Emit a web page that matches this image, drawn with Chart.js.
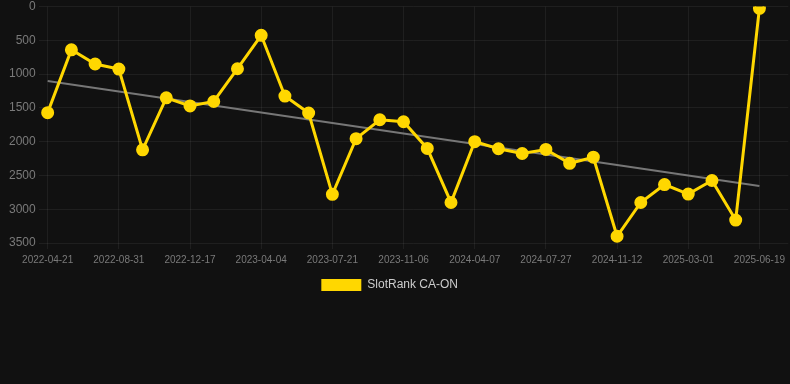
<!DOCTYPE html>
<html>
<head>
<meta charset="utf-8">
<script src="https://cdn.jsdelivr.net/npm/chart.js@4/dist/chart.umd.min.js"></script>
<style>
  html, body { margin: 0; padding: 0; background: #111111; }
  #wrap { position: relative; width: 790px; height: 301px; }
</style>
</head>
<body>
<div id="wrap"><canvas id="c"></canvas></div>
<script>
const dates = [
  '2022-04-21','2022-06-04','2022-07-18','2022-08-31','2022-10-06','2022-11-11',
  '2022-12-17','2023-01-22','2023-02-27','2023-04-04','2023-05-10','2023-06-15',
  '2023-07-21','2023-08-26','2023-10-01','2023-11-06','2023-12-27','2024-02-16',
  '2024-04-07','2024-05-14','2024-06-20','2024-07-27','2024-09-01','2024-10-07',
  '2024-11-12','2024-12-18','2025-01-23','2025-03-01','2025-04-06','2025-05-12',
  '2025-06-19'
];
const rankValues = [
  1570, 640, 850, 925, 2120, 1350, 1470, 1405, 920, 425, 1325, 1575,
  2780, 1955, 1675, 1705, 2100, 2900, 2000, 2105, 2175, 2115, 2320, 2230,
  3400, 2900, 2635, 2775, 2575, 3160, 25
];
const trendStart = 1100;
const trendEnd = 2655;
const yTicks = [0, 500, 1000, 1500, 2000, 2500, 3000, 3500];
const seriesName = 'SlotRank CA-ON';

const lastIdx = dates.length - 1;
const rankPoints = rankValues.map((v, i) => ({ x: i, y: v }));
const trendPoints = [{ x: 0, y: trendStart }, { x: lastIdx, y: trendEnd }];
const labelIdx = dates.map((d, i) => i).filter(i => i % 3 === 0);

new Chart(document.getElementById('c'), {
  type: 'line',
  data: {
    datasets: [
      {
        label: seriesName,
        data: rankPoints,
        borderColor: '#FFD700',
        backgroundColor: '#FFD700',
        borderWidth: 3,
        pointRadius: 5,
        pointHoverRadius: 5,
        pointBackgroundColor: '#FFD700',
        pointBorderColor: '#FFD700',
        tension: 0,
        order: 1
      },
      {
        label: 'trend',
        data: trendPoints,
        borderColor: '#777777',
        borderWidth: 2,
        pointRadius: 0,
        fill: false,
        order: 2
      }
    ]
  },
  options: {
    responsive: true,
    maintainAspectRatio: false,
    animation: false,
    layout: { autoPadding: false, padding: { left: 6, right: 0, top: 0, bottom: 0 } },
    scales: {
      x: {
        type: 'linear',
        min: -0.378,
        max: lastIdx + 1.218,
        afterBuildTicks: (scale) => { scale.ticks = labelIdx.map(v => ({ value: v })); },
        grid: { color: 'rgba(255,255,255,0.06)', drawTicks: true, tickLength: 6 },
        border: { display: false },
        ticks: {
          color: '#7a7a7a',
          font: { size: 10 },
          maxRotation: 0,
          autoSkip: false,
          padding: 5,
          callback: (v) => dates[v] ?? ''
        }
      },
      y: {
        reverse: true,
        min: 0,
        max: 3500,
        afterBuildTicks: (scale) => { scale.ticks = yTicks.map(v => ({ value: v })); },
        grid: { color: 'rgba(255,255,255,0.06)', drawTicks: false },
        border: { display: false },
        ticks: { color: '#7a7a7a', font: { size: 12, lineHeight: 0.6 }, padding: 3, callback: (v) => String(v) }
      }
    },
    plugins: {
      legend: {
        position: 'bottom',
        labels: {
          color: '#cccccc',
          font: { size: 12 },
          boxWidth: 40,
          boxHeight: 12,
          padding: 8,
          generateLabels: (chart) => {
            const items = Chart.defaults.plugins.legend.labels.generateLabels(chart);
            return items.filter(it => it.text === seriesName)
              .map(it => Object.assign(it, { text: seriesName + '     ', lineWidth: 0 }));
          }
        }
      },
      tooltip: { enabled: false }
    }
  }
});
</script>
</body>
</html>
